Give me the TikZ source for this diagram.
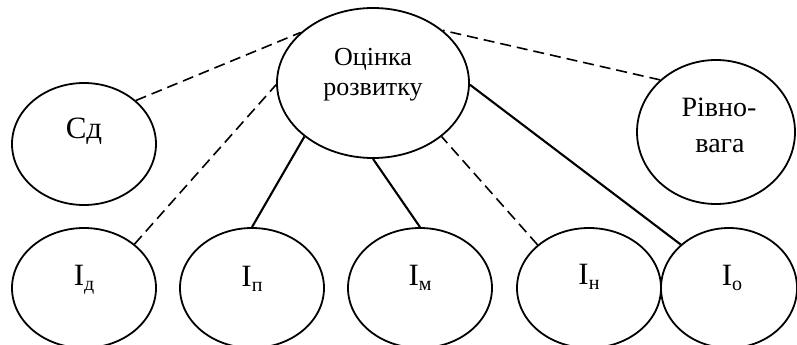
\documentclass[tikz,border=0pt]{standalone}
\usepackage{fontspec}
\setmainfont{Liberation Serif}
\usetikzlibrary{shapes.geometric}
\newcommand\mysub[1]{{\fontsize{20}{20}\selectfont\raisebox{-5pt}{#1}}}
\begin{document}
\begin{tikzpicture}[x=1pt,y=-1pt,
  ell/.style={draw, ellipse, inner sep=0pt, line width=1.8pt},
  txt/.style={anchor=base, inner sep=0pt},
  bigtxt/.style={txt, font=\fontsize{31}{34}\selectfont},
  toptxt/.style={txt, font=\fontsize{26}{29}\selectfont},
  solidline/.style={line width=2.1pt},
  dashline/.style={line width=1.6pt, dash pattern=on 11pt off 6pt}]
\useasboundingbox (0,0) rectangle (797,345);
% ellipses
\node[ell, minimum width=192pt, minimum height=150pt] (top) at (373,83) {};
\node[ell, minimum width=144pt, minimum height=122pt] (sd) at (84,144) {};
\node[ell, minimum width=158pt, minimum height=144pt] (rv) at (716,132) {};
\node[ell, minimum width=144pt, minimum height=120pt] (id) at (84,288) {};
\node[ell, minimum width=144pt, minimum height=120pt] (ip) at (252,288) {};
\node[ell, minimum width=144pt, minimum height=120pt] (im) at (420,288) {};
\node[ell, minimum width=144pt, minimum height=120pt] (ih) at (589,288) {};
\node[ell, minimum width=136pt, minimum height=120pt] (io) at (729,288) {};
% texts
\node[toptxt] (t1) at (373,66) {Оцінка};
\node[toptxt] (t2) at (373,95) {розвитку};
\node[bigtxt] (tsd) at (84,138) {Сд};
\node[toptxt, font=\fontsize{28}{32}\selectfont] (tr1) at (719,116) {Рівно-};
\node[toptxt, font=\fontsize{28}{32}\selectfont] (tr2) at (720,152) {вага};
\node[bigtxt] (tid) at (84,285) {I\mysub{д}};
\node[bigtxt] (tip) at (252,286) {I\mysub{п}};
\node[bigtxt] (tim) at (420,285) {I\mysub{м}};
\node[bigtxt] (tih) at (589,284) {I\mysub{н}};
\node[bigtxt] (tio) at (732,285) {I\mysub{о}};
% connectors
\draw[dashline] (sd.40) -- (top.145);
\draw[dashline] (id.41) -- (top.181);
\draw[solidline] (ip.90) -- (top.218);
\draw[solidline] (im.90) -- (top.270);
\draw[dashline] (ih.140) -- (top.322);
\draw[solidline] (io.138) -- (top.359);
\draw[dashline] (rv.137) -- (top.37);
\end{tikzpicture}
\end{document}
